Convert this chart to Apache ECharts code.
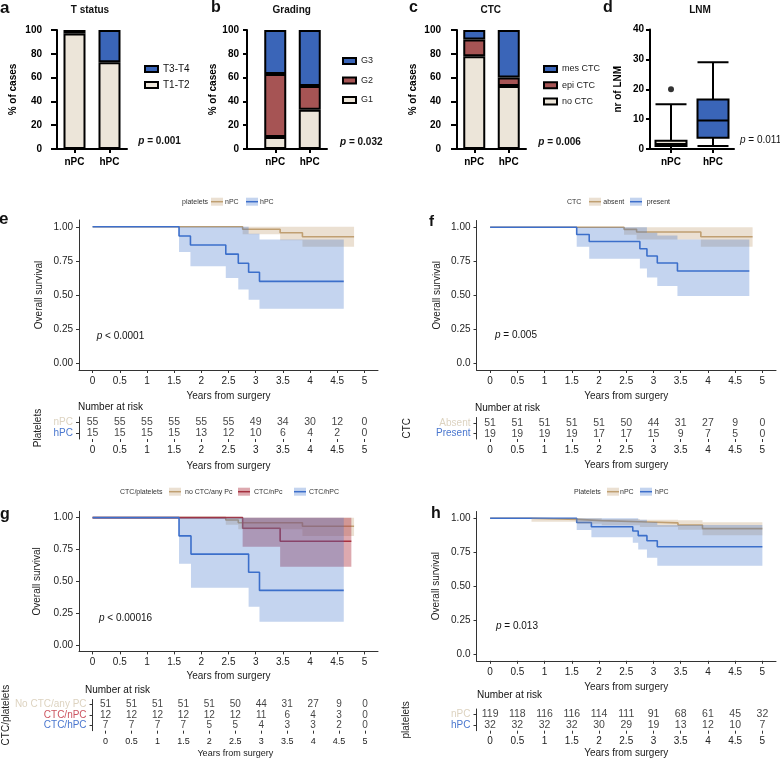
<!DOCTYPE html>
<html><head><meta charset="utf-8">
<script src="https://cdn.jsdelivr.net/npm/echarts@6/dist/echarts.min.js"></script>
<style>html,body{margin:0;padding:0;background:#fff}#c{width:780px;height:760px}</style>
</head><body><div id="c"></div>
<script>
// ---------- DATA ----------
const barGroups = ['nPC', 'hPC'];
// a: T status (% of cases)
const tT1T2 = [97, 73];
const tT3T4 = [3, 27];
// b: Grading
const gradeG1 = [10, 33];
const gradeG2 = [53, 20];
const gradeG3 = [37, 47];
// c: CTC
const ctcNo = [78, 53];
const ctcEpi = [14, 7];
const ctcMes = [8, 40];
// d: LNM boxplot [min, Q1, median, Q3, max]
const lnmBox = [[0, 1, 1.7, 2.8, 15], [1, 3.8, 9.5, 16.6, 29]];
const lnmOutliers = [['nPC', 20]];

// KM axes
const kmXTicks = [0, 0.5, 1, 1.5, 2, 2.5, 3, 3.5, 4, 4.5, 5];
const kmXLabels = ['0', '0.5', '1', '1.5', '2', '2.5', '3', '3.5', '4', '4.5', '5'];
const kmYTicks = [0, 0.25, 0.5, 0.75, 1];
const kmYLabelsA = ['0.00', '0.25', '0.50', '0.75', '1.00'];
const kmYLabelsB = ['0.0', '0.25', '0.50', '0.75', '1.00'];

// e: platelets
const eNpcT = [0, 2.76, 3.45, 3.86, 4.81];
const eNpcS = [1, 0.982, 0.956, 0.927, 0.927];
const eNpcCiT = [2.76, 3.45, 3.86, 4.81];
const eNpcLo = [0.946, 0.902, 0.853, 0.853];
const eNpcHi = [1, 1, 1, 1];
const eHpcT = [0, 1.59, 1.80, 2.45, 2.68, 2.87, 3.07, 4.62];
const eHpcS = [1, 0.933, 0.867, 0.8, 0.733, 0.667, 0.6, 0.6];
const eHpcCiT = [1.59, 1.80, 2.45, 2.68, 2.87, 3.07, 4.62];
const eHpcLo = [0.816, 0.711, 0.625, 0.54, 0.466, 0.40, 0.40];
const eHpcHi = [1, 1, 1, 1, 0.95, 0.907, 0.907];

// f: CTC
const fAbsT = [0, 2.46, 2.69, 3.87, 4.82];
const fAbsS = [1, 0.985, 0.965, 0.93, 0.93];
const fAbsCiT = [2.46, 2.69, 3.87, 4.82];
const fAbsLo = [0.945, 0.91, 0.857, 0.857];
const fAbsHi = [1, 1, 1, 1];
const fPreT = [0, 1.59, 1.82, 2.75, 2.88, 3.07, 3.44, 4.76];
const fPreS = [1, 0.947, 0.895, 0.842, 0.789, 0.737, 0.678, 0.678];
const fPreCiT = [1.59, 1.82, 2.75, 2.88, 3.07, 3.44, 4.76];
const fPreLo = [0.857, 0.769, 0.696, 0.63, 0.568, 0.495, 0.495];
const fPreHi = [1, 1, 1, 0.96, 0.94, 0.91, 0.91];

// g: CTC/platelets
const gNoT = [0, 2.45, 2.68, 3.86, 4.81];
const gNoS = [1, 0.982, 0.96, 0.933, 0.933];
const gNoCiT = [2.45, 2.68, 3.86, 4.81];
const gNoLo = [0.945, 0.91, 0.856, 0.856];
const gNoHi = [1, 1, 1, 1];
const gNpcT = [0, 2.76, 3.45, 4.76];
const gNpcS = [1, 0.917, 0.815, 0.815];
const gNpcCiT = [2.76, 3.45, 4.76];
const gNpcLo = [0.772, 0.615, 0.615];
const gNpcHi = [1, 1, 1];
const gHpcT = [0, 1.59, 1.81, 2.87, 3.07, 4.62];
const gHpcS = [1, 0.857, 0.714, 0.571, 0.429, 0.429];
const gHpcCiT = [1.59, 1.81, 2.87, 3.07, 4.62];
const gHpcLo = [0.639, 0.45, 0.30, 0.183, 0.183];
const gHpcHi = [1, 1, 1, 1, 1];

// h: platelets (larger cohort)
const hNpcT = [0, 0.76, 1.6, 2.05, 2.75, 3.45, 3.9, 5.0];
const hNpcS = [1, 0.992, 0.983, 0.975, 0.966, 0.95, 0.924, 0.924];
const hNpcCiT = [0.76, 1.6, 2.05, 2.75, 3.45, 3.9, 5.0];
const hNpcLo = [0.975, 0.96, 0.948, 0.935, 0.915, 0.875, 0.875];
const hNpcHi = [1, 1, 0.995, 0.99, 0.985, 0.97, 0.97];
const hHpcT = [0, 1.59, 1.86, 2.62, 2.72, 2.88, 3.07, 5.0];
const hHpcS = [1, 0.969, 0.938, 0.906, 0.872, 0.835, 0.79, 0.79];
const hHpcCiT = [1.59, 1.86, 2.62, 2.72, 2.88, 3.07, 5.0];
const hHpcLo = [0.913, 0.86, 0.82, 0.77, 0.71, 0.65, 0.65];
const hHpcHi = [1, 1, 1, 0.99, 0.97, 0.95, 0.95];

// Risk tables
const riskTimes = [0, 0.5, 1, 1.5, 2, 2.5, 3, 3.5, 4, 4.5, 5];
const eRows = ['nPC', 'hPC'];
const eRisk = [[55, 55, 55, 55, 55, 55, 49, 34, 30, 12, 0], [15, 15, 15, 15, 13, 12, 10, 6, 4, 2, 0]];
const fRows = ['Absent', 'Present'];
const fRisk = [[51, 51, 51, 51, 51, 50, 44, 31, 27, 9, 0], [19, 19, 19, 19, 17, 17, 15, 9, 7, 5, 0]];
const gRows = ['No CTC/any PC', 'CTC/nPC', 'CTC/hPC'];
const gRisk = [[51, 51, 51, 51, 51, 50, 44, 31, 27, 9, 0], [12, 12, 12, 12, 12, 12, 11, 6, 4, 3, 0], [7, 7, 7, 7, 5, 5, 4, 3, 3, 2, 0]];
const hRows = ['nPC', 'hPC'];
const hRisk = [[119, 118, 116, 116, 114, 111, 91, 68, 61, 45, 32], [32, 32, 32, 32, 30, 29, 19, 13, 12, 10, 7]];

// ---------- STYLE ----------
const FF = 'Liberation Sans, Arial, Helvetica, sans-serif';
const BAR_BEIGE = '#ece5d9', BAR_BLUE = '#3a65b8', BAR_RED = '#a65454';
const TAN = '#c0a072', TAN_BAND = 'rgba(192,160,114,0.32)';
const BLUE = '#3d6fcb', BLUE_BAND = 'rgba(61,111,203,0.30)';
const RED = '#a5303e', RED_BAND = 'rgba(175,50,65,0.42)';
const ROW_TAN = '#ddd3c0', ROW_BLUE = '#4a77cf', ROW_RED = '#cc5560';

const chart = echarts.init(document.getElementById('c'), null, {renderer: 'canvas'});

// ---------- helpers ----------
function barX(gi) {
  return {type: 'category', gridIndex: gi, data: barGroups,
    axisLine: {onZero: false, lineStyle: {color: '#000', width: 2}},
    axisTick: {show: true, alignWithLabel: true, length: 4, lineStyle: {color: '#000', width: 2}},
    axisLabel: {fontSize: 10, fontWeight: 'bold', color: '#000', margin: 8, fontFamily: FF}};
}
function barY(gi, max, interval, margin, tickLen, offset, name, nameGap) {
  return {type: 'value', gridIndex: gi, min: 0, max: max, interval: interval, offset: offset,
    axisLine: {show: true, onZero: false, lineStyle: {color: '#000', width: 2}},
    axisTick: {show: true, length: tickLen, lineStyle: {color: '#000', width: 2}},
    splitLine: {show: false},
    axisLabel: {fontSize: 10, fontWeight: 'bold', color: '#000', margin: margin, fontFamily: FF},
    name: name, nameLocation: 'middle', nameGap: nameGap,
    nameTextStyle: {fontSize: 10, fontWeight: 'bold', color: '#000', fontFamily: FF}};
}
function bar(gi, name, data, color, stack) {
  return {type: 'bar', name: name, xAxisIndex: gi, yAxisIndex: gi, stack: stack, data: data, barWidth: 22,
    itemStyle: {color: color, borderColor: '#000', borderWidth: 2}, silent: true};
}
function labelFromList(ticks, labels) {
  return function (v) {
    for (let i = 0; i < ticks.length; i++) if (Math.abs(ticks[i] - v) < 1e-9) return labels[i];
    return '';
  };
}
function kmX(gi, fs, name, nameGap) {
  return {type: 'value', gridIndex: gi, min: -0.25, max: 5.25,
    axisLine: {onZero: false, lineStyle: {color: '#333', width: 1}},
    axisTick: {show: true, length: 3, customValues: kmXTicks, lineStyle: {color: '#333'}},
    axisLabel: {customValues: kmXTicks, formatter: labelFromList(kmXTicks, kmXLabels), fontSize: fs, color: '#222', margin: 6, fontFamily: FF},
    splitLine: {show: false},
    name: name, nameLocation: 'middle', nameGap: nameGap,
    nameTextStyle: {fontSize: fs, color: '#222', fontFamily: FF}};
}
function kmY(gi, labels, nameGap) {
  return {type: 'value', gridIndex: gi, min: -0.05, max: 1.05,
    axisLine: {show: true, onZero: false, lineStyle: {color: '#333', width: 1}},
    axisTick: {show: true, length: 3, customValues: kmYTicks, lineStyle: {color: '#333'}},
    axisLabel: {customValues: kmYTicks, formatter: labelFromList(kmYTicks, labels), fontSize: 10, color: '#222', margin: 6, fontFamily: FF},
    splitLine: {show: false},
    name: 'Overall survival', nameLocation: 'middle', nameGap: nameGap,
    nameTextStyle: {fontSize: 10, color: '#222', fontFamily: FF}};
}
function riskY(gi, rows, colors, name, nameGap, fs) {
  return {type: 'category', gridIndex: gi, data: rows, inverse: true,
    axisLine: {show: true, onZero: false, lineStyle: {color: '#333', width: 1}},
    axisTick: {show: true, length: 3, alignWithLabel: true, interval: 0, lineStyle: {color: '#333'}},
    axisLabel: {interval: 0, fontSize: fs, margin: 6, fontFamily: FF, color: function (v) { return colors[rows.indexOf(v)]; }},
    splitLine: {show: false},
    name: name, nameLocation: 'middle', nameGap: nameGap,
    nameTextStyle: {fontSize: 10, color: '#222', fontFamily: FF}};
}
function kmLine(gi, t, s, color) {
  return {type: 'line', xAxisIndex: gi, yAxisIndex: gi, step: 'end', symbol: 'none', silent: true, z: 2,
    data: t.map(function (x, i) { return [x, s[i]]; }), lineStyle: {color: color, width: 1.6}};
}
// confidence band drawn as one step polygon through the axes' scales
function kmBand(gi, t, lo, hi, fill) {
  return {type: 'custom', xAxisIndex: gi, yAxisIndex: gi, silent: true, z: 3,
    data: t.map(function (x, i) { return [x, lo[i], hi[i]]; }),
    encode: {x: 0, y: [1, 2]},
    renderItem: function (params, api) {
      if (params.dataIndexInside !== 0) return null;
      const n = t.length;
      const top = [], bot = [];
      for (let i = 0; i < n - 1; i++) {
        const x0 = api.value(0, i), x1 = api.value(0, i + 1);
        const l = api.value(1, i), h = api.value(2, i);
        top.push(api.coord([x0, h]), api.coord([x1, h]));
        bot.push(api.coord([x0, l]), api.coord([x1, l]));
      }
      const pts = top.concat(bot.reverse());
      return {type: 'polygon', shape: {points: pts}, style: {fill: fill}};
    }};
}
function riskSeries(gi, rows, counts, fs) {
  const data = [];
  rows.forEach(function (r, ri) { riskTimes.forEach(function (t, ti) { data.push([t, r, counts[ri][ti]]); }); });
  return {type: 'scatter', xAxisIndex: gi, yAxisIndex: gi, symbolSize: 1, silent: true,
    itemStyle: {color: 'rgba(0,0,0,0)'}, data: data,
    label: {show: true, position: 'inside', formatter: function (p) { return String(p.value[2]); },
      fontSize: fs, color: '#111', fontFamily: FF}};
}
function txt(text, x, y, o) {
  o = o || {};
  return {type: 'text', x: x, y: y, silent: true, style: {text: text, fill: o.fill || '#111',
    fontSize: o.fs || 10, fontWeight: o.fw || 'normal', fontStyle: o.fst || 'normal', fontFamily: FF,
    align: o.align || 'left', verticalAlign: 'middle', rich: o.rich}};
}
function key(x, cy, band, line) {
  return [
    {type: 'rect', silent: true, shape: {x: x, y: cy - 4, width: 12, height: 8}, style: {fill: band}},
    {type: 'line', silent: true, shape: {x1: x, y1: cy, x2: x + 12, y2: cy}, style: {stroke: line, lineWidth: 1.5}}
  ];
}
const pBold = {i: {fontStyle: 'italic', fontWeight: 'bold', fontSize: 10, fontFamily: FF, fill: '#111'}};
const pReg = {i: {fontStyle: 'italic', fontSize: 10, fontFamily: FF, fill: '#111'}};

// ---------- OPTION ----------
const option = {
  animation: false,
  backgroundColor: '#fff',
  grid: [
    {left: 57, top: 30, width: 70, height: 119},
    {left: 258, top: 30, width: 69, height: 119},
    {left: 457, top: 30, width: 69, height: 119},
    {left: 650, top: 29.5, width: 84, height: 119.5},
    {left: 79, top: 220, width: 299, height: 150},
    {left: 79, top: 417, width: 299, height: 22},
    {left: 476.5, top: 220.5, width: 299.5, height: 149.5},
    {left: 476.5, top: 417.5, width: 299.5, height: 21.5},
    {left: 79, top: 511.3, width: 299, height: 140.1},
    {left: 79, top: 699.5, width: 299, height: 31.2},
    {left: 476.5, top: 511.5, width: 299.5, height: 149.3},
    {left: 476.5, top: 709, width: 299.5, height: 21.7}
  ],
  xAxis: [
    barX(0), barX(1), barX(2), barX(3),
    kmX(4, 10, 'Years from surgery', 21),
    kmX(5, 10, 'Years from surgery', 22),
    kmX(6, 10, 'Years from surgery', 21.5),
    kmX(7, 10, 'Years from surgery', 21),
    kmX(8, 10, 'Years from surgery', 20),
    kmX(9, 9, 'Years from surgery', 18),
    kmX(10, 10, 'Years from surgery', 21),
    kmX(11, 10, 'Years from surgery', 18)
  ],
  yAxis: [
    barY(0, 100, 20, 15, 6, 0, '% of cases', 39),
    barY(1, 100, 20, 8, 4, 11, '% of cases', 24),
    barY(2, 100, 20, 16, 6, 0, '% of cases', 39),
    barY(3, 40, 10, 6, 4, 0, 'nr of LNM', 27),
    kmY(4, kmYLabelsA, 35),
    riskY(5, eRows, [ROW_TAN, ROW_BLUE], 'Platelets', 36, 10),
    kmY(6, kmYLabelsB, 34),
    riskY(7, fRows, [ROW_TAN, ROW_BLUE], 'CTC', 64.5, 10),
    kmY(8, kmYLabelsA, 36.5),
    riskY(9, gRows, [ROW_TAN, ROW_RED, ROW_BLUE], 'CTC/platelets', 69, 10),
    kmY(10, kmYLabelsB, 35.5),
    riskY(11, hRows, [ROW_TAN, ROW_BLUE], 'platelets', 65, 10)
  ],
  legend: [
    {data: ['T3-T4', 'T1-T2'], left: 144, top: 63, orient: 'vertical', icon: 'rect', itemWidth: 13, itemHeight: 6,
      itemGap: 4, padding: 0, selectedMode: false, textStyle: {fontSize: 10, color: '#111', lineHeight: 12, fontFamily: FF}},
    {data: ['G3', 'G2', 'G1'], left: 342, top: 55, orient: 'vertical', icon: 'rect', itemWidth: 13, itemHeight: 6,
      itemGap: 7.5, padding: 0, selectedMode: false, textStyle: {fontSize: 9, color: '#222', lineHeight: 12, fontFamily: FF}},
    {data: ['mes CTC', 'epi CTC', 'no CTC'], left: 543, top: 63, orient: 'vertical', icon: 'rect', itemWidth: 13, itemHeight: 6,
      itemGap: 4.2, padding: 0, selectedMode: false, textStyle: {fontSize: 9, color: '#222', lineHeight: 12, fontFamily: FF}}
  ],
  series: [].concat(
    [bar(0, 'T1-T2', tT1T2, BAR_BEIGE, 'a'), bar(0, 'T3-T4', tT3T4, BAR_BLUE, 'a'),
     bar(1, 'G1', gradeG1, BAR_BEIGE, 'b'), bar(1, 'G2', gradeG2, BAR_RED, 'b'), bar(1, 'G3', gradeG3, BAR_BLUE, 'b'),
     bar(2, 'no CTC', ctcNo, BAR_BEIGE, 'c'), bar(2, 'epi CTC', ctcEpi, BAR_RED, 'c'), bar(2, 'mes CTC', ctcMes, BAR_BLUE, 'c'),
     {type: 'boxplot', xAxisIndex: 3, yAxisIndex: 3, boxWidth: [31, 31], silent: true,
       data: lnmBox.map(function (v, i) { return {value: v, itemStyle: {color: [BAR_BEIGE, BAR_BLUE][i]}}; }),
       itemStyle: {borderColor: '#000', borderWidth: 2}},
     {type: 'scatter', xAxisIndex: 3, yAxisIndex: 3, data: lnmOutliers, symbolSize: 6, silent: true, itemStyle: {color: '#000'}}],
    // e
    [kmLine(4, eNpcT, eNpcS, TAN), kmLine(4, eHpcT, eHpcS, BLUE),
     kmBand(4, eNpcCiT, eNpcLo, eNpcHi, TAN_BAND), kmBand(4, eHpcCiT, eHpcLo, eHpcHi, BLUE_BAND),
     riskSeries(5, eRows, eRisk, 10.5)],
    // f
    [kmLine(6, fAbsT, fAbsS, TAN), kmLine(6, fPreT, fPreS, BLUE),
     kmBand(6, fAbsCiT, fAbsLo, fAbsHi, TAN_BAND), kmBand(6, fPreCiT, fPreLo, fPreHi, BLUE_BAND),
     riskSeries(7, fRows, fRisk, 10.5)],
    // g
    [kmLine(8, gNoT, gNoS, TAN), kmLine(8, gNpcT, gNpcS, RED), kmLine(8, gHpcT, gHpcS, BLUE),
     kmBand(8, gNoCiT, gNoLo, gNoHi, TAN_BAND), kmBand(8, gNpcCiT, gNpcLo, gNpcHi, RED_BAND),
     kmBand(8, gHpcCiT, gHpcLo, gHpcHi, BLUE_BAND),
     riskSeries(9, gRows, gRisk, 10)],
    // h
    [kmLine(10, hNpcT, hNpcS, TAN), kmLine(10, hHpcT, hHpcS, BLUE),
     kmBand(10, hNpcCiT, hNpcLo, hNpcHi, TAN_BAND), kmBand(10, hHpcCiT, hHpcLo, hHpcHi, BLUE_BAND),
     riskSeries(11, hRows, hRisk, 10.5)]
  ),
  graphic: [].concat(
    [txt('a', 0, 8, {fs: 17, fw: 'bold'}), txt('b', 211, 8, {fs: 16, fw: 'bold'}),
     txt('c', 409, 8, {fs: 16, fw: 'bold'}), txt('d', 603, 8, {fs: 16, fw: 'bold'}),
     txt('T status', 90, 10, {fw: 'bold', align: 'center'}), txt('Grading', 291.7, 10, {fw: 'bold', align: 'center'}),
     txt('CTC', 490.7, 10, {fw: 'bold', align: 'center'}), txt('LNM', 700, 10, {fw: 'bold', align: 'center'}),
     txt('{i|p} = 0.001', 138.3, 141.7, {fw: 'bold', rich: pBold}),
     txt('{i|p} = 0.032', 340, 142, {fw: 'bold', rich: pBold}),
     txt('{i|p} = 0.006', 538.3, 142, {fw: 'bold', rich: pBold}),
     txt('{i|p} = 0.011', 740, 140.7, {rich: pReg}),
     {type: 'line', silent: true, shape: {x1: 247, y1: 149, x2: 258, y2: 149}, style: {stroke: '#000', lineWidth: 2}},
     txt('e', -1, 219, {fs: 17, fw: 'bold'}), txt('f', 429, 222, {fs: 15, fw: 'bold'}),
     txt('g', 0, 515, {fs: 16, fw: 'bold'}), txt('h', 431, 514, {fs: 16, fw: 'bold'}),
     txt('{i|p} < 0.0001', 96.7, 336, {rich: pReg}),
     txt('{i|p} = 0.005', 495, 335, {rich: pReg}),
     txt('{i|p} < 0.00016', 99, 618.3, {rich: pReg}),
     txt('{i|p} = 0.013', 496, 626.7, {rich: pReg}),
     txt('Number at risk', 78, 407), txt('Number at risk', 475, 408),
     txt('Number at risk', 85, 690), txt('Number at risk', 477, 695.5),
     txt('platelets', 182, 201.7, {fs: 7, fill: '#333'}), txt('nPC', 225, 201.7, {fs: 7, fill: '#333'}), txt('hPC', 260, 201.7, {fs: 7, fill: '#333'}),
     txt('CTC', 567, 201.7, {fs: 7, fill: '#333'}), txt('absent', 603.3, 201.7, {fs: 7, fill: '#333'}), txt('present', 646.7, 201.7, {fs: 7, fill: '#333'}),
     txt('CTC/platelets', 120, 491.7, {fs: 7, fill: '#333'}), txt('no CTC/any Pc', 185, 491.7, {fs: 7, fill: '#333'}),
     txt('CTC/nPc', 254, 491.7, {fs: 7, fill: '#333'}), txt('CTC/hPC', 309, 491.7, {fs: 7, fill: '#333'}),
     txt('Platelets', 574, 491.7, {fs: 7, fill: '#333'}), txt('nPC', 620, 491.7, {fs: 7, fill: '#333'}), txt('hPC', 655, 491.7, {fs: 7, fill: '#333'})],
    key(211, 201.7, TAN_BAND, TAN), key(246, 201.7, BLUE_BAND, BLUE),
    key(589, 201.7, TAN_BAND, TAN), key(630, 201.7, BLUE_BAND, BLUE),
    key(169, 491.7, TAN_BAND, TAN), key(238, 491.7, RED_BAND, RED), key(294, 491.7, BLUE_BAND, BLUE),
    key(607, 491.7, TAN_BAND, TAN), key(640, 491.7, BLUE_BAND, BLUE)
  )
};
chart.setOption(option);
</script></body></html>
